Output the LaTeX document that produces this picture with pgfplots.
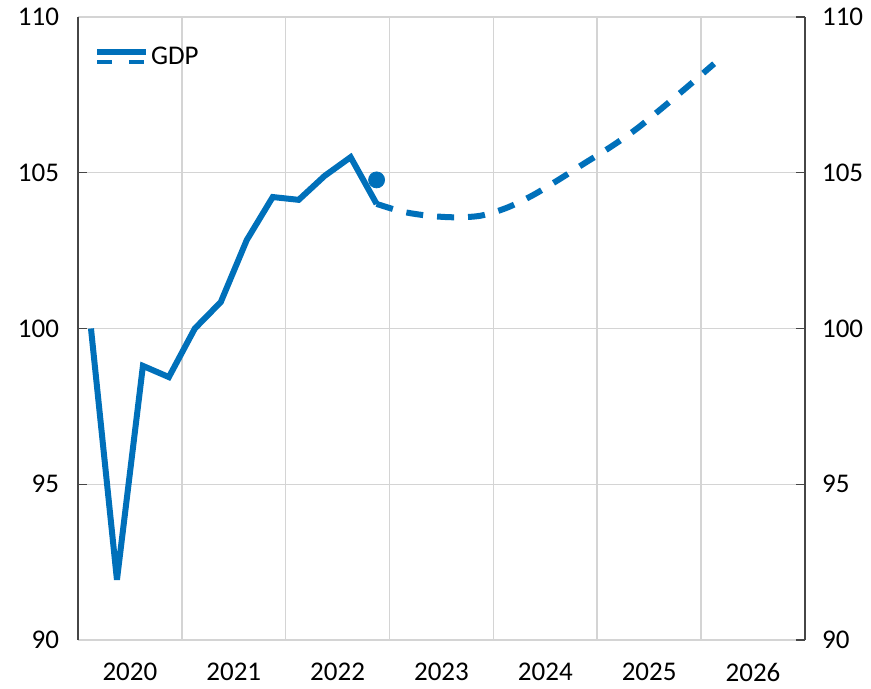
\documentclass[border=0pt]{standalone}
\usepackage{pgfplots}
\pgfplotsset{compat=1.18}
\usepackage{fontspec}
\setmainfont{Carlito}
\definecolor{gdpblue}{RGB}{0,112,186}
\definecolor{gridgray}{RGB}{212,212,212}
\definecolor{axgray}{RGB}{70,70,70}
\begin{document}
\begin{tikzpicture}
\pgfplotsset{
  common/.style={
    scale only axis, width=363.5pt, height=311.5pt,
    xmin=2020, xmax=2027, ymin=90, ymax=110,
    ytick={90,95,100,105,110},
    tick align=inside, major tick length=4.5pt,
    /pgf/number format/assume math mode=true,
    tick label style={font=\fontsize{13.5pt}{15pt}\selectfont},
  }
}
\begin{axis}[common,
  separate axis lines,
  x axis line style={draw=gridgray, line width=0.75pt},
  y axis line style={draw=axgray, line width=0.75pt},
  ytick pos=left,
  ytick style={draw=axgray, line width=0.75pt},
  xtick={2020.5,2021.5,...,2026.5},
  xticklabels={2020,2021,2022,2023,2024,2025,2026},
  xtick style={draw=none},
  minor xtick={2021,2022,...,2026},
  xminorgrids=true, ymajorgrids=true,
  minor x grid style={draw=gridgray, line width=0.75pt},
  major y grid style={draw=gridgray, line width=0.75pt},
  yticklabel style={xshift=-6pt},
  xticklabel style={yshift=-8pt},
  legend style={draw=none, fill=none, at={(0.016,0.966)}, anchor=north west,
    font=\fontsize{13.5pt}{15pt}\selectfont, inner sep=2pt,
    /tikz/every even column/.append style={column sep=0pt}},
  legend cell align=left,
]
\addlegendimage{legend image code/.code={
  \draw[gdpblue, line width=3pt] (0pt,2.5pt) -- (24.5pt,2.5pt);
  \draw[gdpblue, line width=2pt, dash pattern=on 7.5pt off 8.5pt] (0pt,-2.5pt) -- (24.5pt,-2.5pt);
}}
\addlegendentry[inner xsep=1pt, xshift=-2.5pt]{GDP}
\addplot[gdpblue, line width=3pt, line join=miter, miter limit=3, forget plot] coordinates {
(2020.125,100.0) (2020.375,91.93) (2020.625,98.8) (2020.875,98.44)
(2021.125,100.0) (2021.375,100.85) (2021.625,102.84) (2021.875,104.22)
(2022.125,104.13) (2022.375,104.9) (2022.625,105.5) (2022.875,104.0)
};
\addplot[gdpblue, line width=3pt, dash pattern=on 8.5pt off 7pt, forget plot, smooth] coordinates {
(2022.875,104.0) (2023.125,103.75) (2023.375,103.62) (2023.625,103.57) (2023.875,103.62)
(2024.125,103.87) (2024.375,104.27) (2024.625,104.77) (2024.875,105.3)
(2025.125,105.82) (2025.375,106.4) (2025.625,107.08) (2025.875,107.78) (2026.125,108.5)
};
\addplot[gdpblue, only marks, mark=*, mark size=4pt, forget plot] coordinates {(2022.875,104.77)};
\end{axis}
\begin{axis}[common,
  axis x line=none,
  axis y line*=right,
  y axis line style={draw=axgray, line width=0.75pt},
  ytick style={draw=axgray, line width=0.75pt},
  yticklabel style={xshift=5pt},
]
\end{axis}
\pgfresetboundingbox
\path[use as bounding box] (current axis.south west) ++(-39pt,-24pt) rectangle ([xshift=33pt,yshift=8.5pt]current axis.north east);
\end{tikzpicture}
\end{document}
